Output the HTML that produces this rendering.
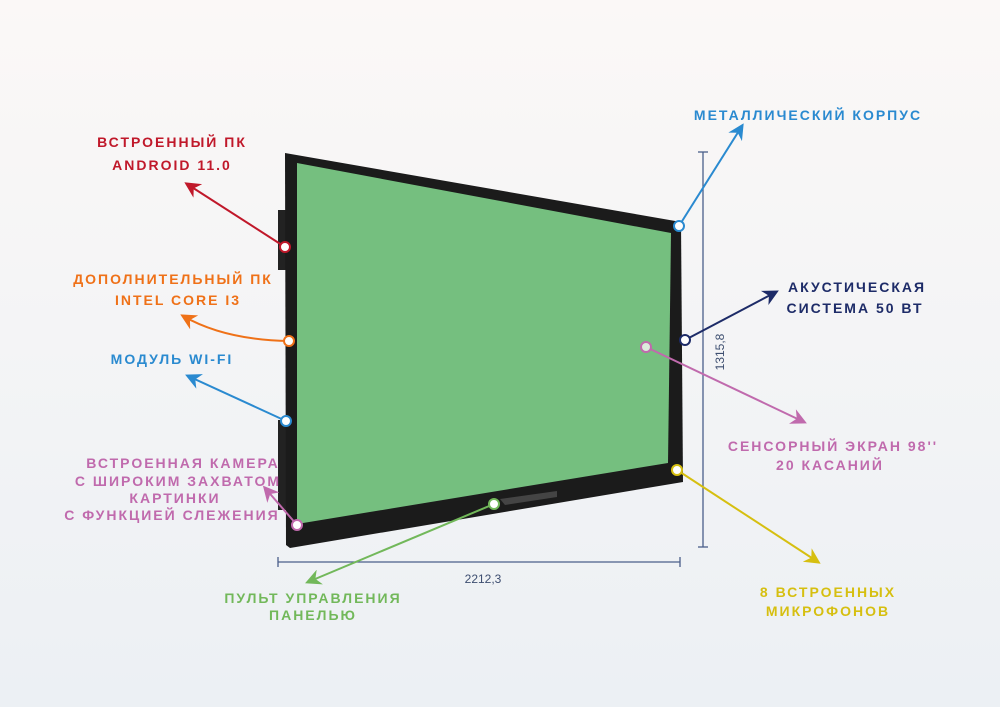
<!DOCTYPE html>
<html><head><meta charset="utf-8"><style>
html,body{margin:0;padding:0;width:1000px;height:707px;overflow:hidden;background:#f3f4f7}
svg{display:block}
text{font-family:"Liberation Sans","DejaVu Sans",sans-serif;font-weight:bold;font-size:14px;letter-spacing:2px;text-anchor:middle}
</style></head><body>
<svg width="1000" height="707" viewBox="0 0 1000 707">
<defs>
<linearGradient id="bg" x1="0" y1="0" x2="0" y2="1"><stop offset="0" stop-color="#fbf8f7"/><stop offset="1" stop-color="#ecf0f4"/></linearGradient>
<marker id="a" viewBox="0 0 10 10" refX="8" refY="5" markerWidth="8" markerHeight="8" orient="auto-start-reverse"><path d="M0,0 L10,5 L0,10 L3,5z" fill="context-stroke"/></marker>
</defs>
<rect width="1000" height="707" fill="url(#bg)"/>
<g stroke="#4a5f8a" stroke-width="1.3" fill="none">
<line x1="703" y1="152" x2="703" y2="547"/><line x1="698" y1="152" x2="708" y2="152"/><line x1="698" y1="547" x2="708" y2="547"/>
<line x1="278" y1="562" x2="680" y2="562"/><line x1="278" y1="557" x2="278" y2="567"/><line x1="680" y1="557" x2="680" y2="567"/>
</g>
<text x="483" y="583" style="font-weight:normal;font-size:12px;letter-spacing:0;fill:#3d4e70">2212,3</text>
<text transform="translate(724,352) rotate(-90)" style="font-weight:normal;font-size:12px;letter-spacing:0;fill:#3d4e70">1315,8</text>
<rect x="278" y="210" width="8" height="60" fill="#222"/><rect x="278" y="420" width="8" height="90" fill="#222"/>
<polygon points="285,153 681,222 683,482 290,548 286,545" fill="#1b1b1b"/>
<polygon points="297,163 671,233 668,463 297,524" fill="#75bf7f"/>
<polygon points="500,499 557,491 557,497 505,505" fill="#444"/>
<g fill="none" stroke-width="2">
<line x1="285" y1="247" x2="187" y2="184" stroke="#c0182a" marker-end="url(#a)"/>
<path d="M289,341 Q225,340 183,316" stroke="#ef7118" marker-end="url(#a)"/>
<line x1="286" y1="421" x2="188" y2="376" stroke="#2a8ad0" marker-end="url(#a)"/>
<line x1="297" y1="525" x2="265" y2="488" stroke="#c06aad" marker-end="url(#a)"/>
<line x1="494" y1="504" x2="308" y2="582" stroke="#72b85a" marker-end="url(#a)"/>
<line x1="677" y1="470" x2="818" y2="562" stroke="#d6bf10" marker-end="url(#a)"/>
<line x1="646" y1="347" x2="804" y2="422" stroke="#c06aad" marker-end="url(#a)"/>
<line x1="685" y1="340" x2="776" y2="292" stroke="#1d2b68" marker-end="url(#a)"/>
<line x1="679" y1="226" x2="742" y2="126" stroke="#2a8ad0" marker-end="url(#a)"/>
</g>
<g fill="#fff" stroke-width="2">
<circle cx="285" cy="247" r="5" stroke="#c0182a"/>
<circle cx="289" cy="341" r="5" stroke="#ef7118"/>
<circle cx="286" cy="421" r="5" stroke="#2a8ad0"/>
<circle cx="297" cy="525" r="5" stroke="#c06aad"/>
<circle cx="494" cy="504" r="5" stroke="#72b85a"/>
<circle cx="677" cy="470" r="5" stroke="#d6bf10"/>
<circle cx="646" cy="347" r="5" stroke="#c06aad" fill="#dcebdc"/>
<circle cx="685" cy="340" r="5" stroke="#1d2b68"/>
<circle cx="679" cy="226" r="5" stroke="#2a8ad0"/>
</g>
<g fill="#c0182a"><text x="172" y="147">ВСТРОЕННЫЙ ПК</text><text x="172" y="170">ANDROID 11.0</text></g>
<g fill="#ef7118"><text x="173" y="284">ДОПОЛНИТЕЛЬНЫЙ ПК</text><text x="178" y="305">INTEL CORE I3</text></g>
<g fill="#2a8ad0"><text x="172" y="364">МОДУЛЬ WI-FI</text></g>
<g fill="#c06aad" style="font-size:13px"><text x="183" y="468">ВСТРОЕННАЯ КАМЕРА</text><text x="178" y="486">С ШИРОКИМ ЗАХВАТОМ</text><text x="175" y="503">КАРТИНКИ</text><text x="172" y="520">С ФУНКЦИЕЙ СЛЕЖЕНИЯ</text></g>
<g fill="#72b85a"><text x="313" y="603">ПУЛЬТ УПРАВЛЕНИЯ</text><text x="313" y="620">ПАНЕЛЬЮ</text></g>
<g fill="#d6bf10"><text x="828" y="597">8 ВСТРОЕННЫХ</text><text x="828" y="616">МИКРОФОНОВ</text></g>
<g fill="#c06aad"><text x="833" y="451">СЕНСОРНЫЙ ЭКРАН 98''</text><text x="830" y="470">20 КАСАНИЙ</text></g>
<g fill="#1d2b68"><text x="857" y="292">АКУСТИЧЕСКАЯ</text><text x="855" y="313">СИСТЕМА 50 ВТ</text></g>
<g fill="#2a8ad0"><text x="808" y="120">МЕТАЛЛИЧЕСКИЙ КОРПУС</text></g>
</svg>
</body></html>
